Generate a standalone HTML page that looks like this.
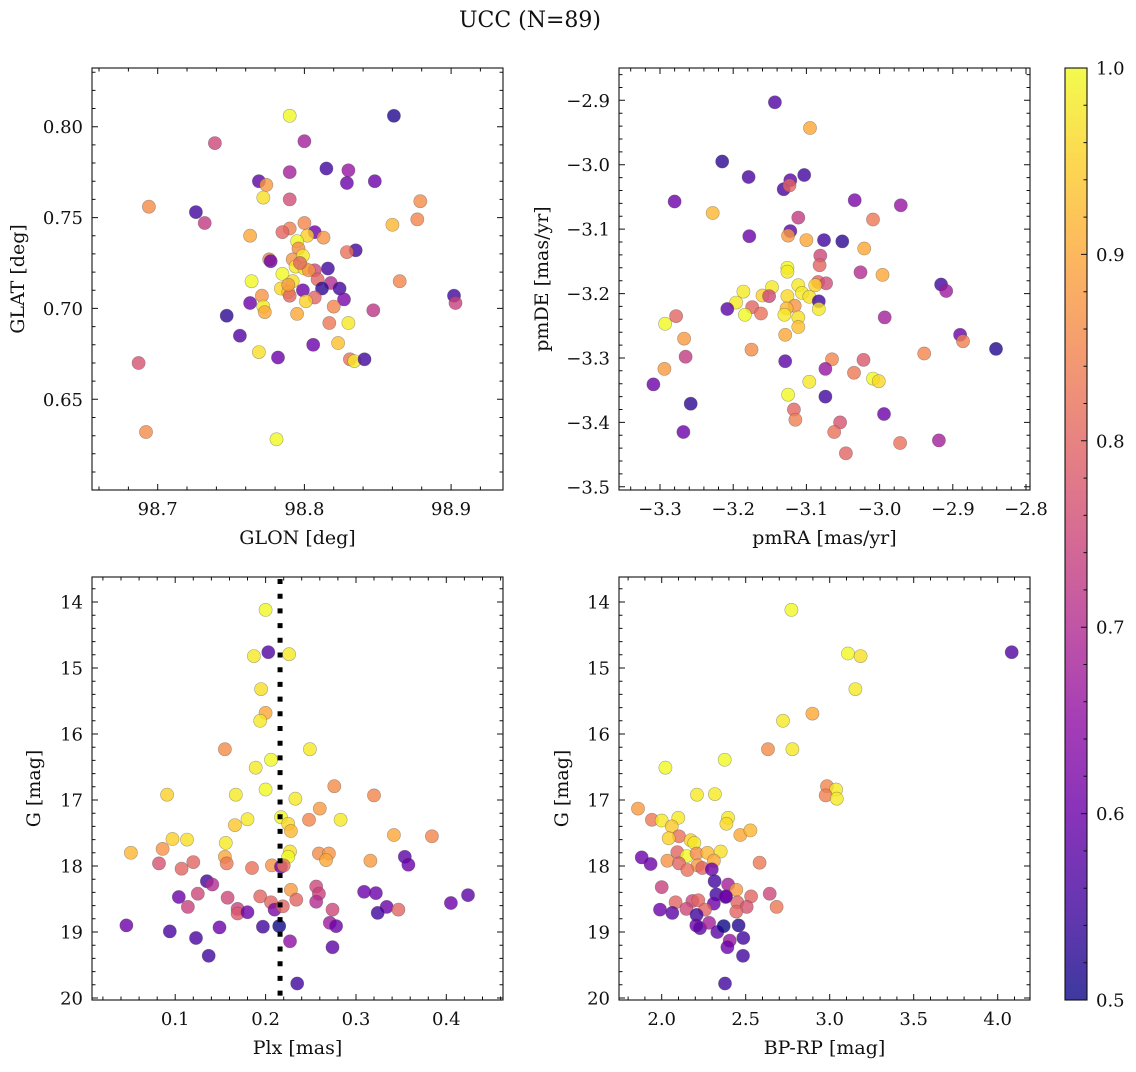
<!DOCTYPE html>
<html><head><meta charset="utf-8">
<style>
html,body{margin:0;padding:0;background:#fff;}
svg text{font-family:"DejaVu Serif","Liberation Serif",serif;fill:#111;}
</style></head>
<body>
<svg id="fig" xmlns="http://www.w3.org/2000/svg" width="1136" height="1067" viewBox="0 0 1136 1067">
<text x="530" y="27" font-size="22" text-anchor="middle">UCC (N=89)</text>
</svg>
<script>
// ---- Panel 1: GLON vs GLAT ----
const glonVals = [98.790,98.861,98.739,98.800,98.815,98.790,98.830,98.829,98.848,98.769,98.774,98.772,98.790,98.694,98.879,98.726,98.732,98.877,98.860,98.763,98.800,98.790,98.785,98.807,98.813,98.802,98.795,98.796,98.835,98.829,98.776,98.777,98.792,98.799,98.794,98.800,98.807,98.816,98.785,98.803,98.809,98.818,98.792,98.764,98.784,98.789,98.812,98.824,98.799,98.790,98.807,98.771,98.763,98.827,98.801,98.902,98.903,98.865,98.772,98.773,98.820,98.847,98.747,98.795,98.817,98.830,98.756,98.806,98.823,98.769,98.782,98.831,98.834,98.841,98.687,98.692,98.781,98.797,98.789];
const glatVals = [0.806,0.806,0.791,0.792,0.777,0.775,0.776,0.769,0.770,0.770,0.768,0.761,0.760,0.756,0.759,0.753,0.747,0.749,0.746,0.740,0.747,0.744,0.742,0.742,0.739,0.740,0.737,0.733,0.732,0.731,0.727,0.726,0.727,0.729,0.723,0.722,0.721,0.722,0.719,0.721,0.716,0.714,0.715,0.715,0.711,0.709,0.711,0.711,0.710,0.707,0.706,0.707,0.703,0.705,0.704,0.707,0.703,0.715,0.701,0.698,0.701,0.699,0.696,0.697,0.692,0.692,0.685,0.680,0.681,0.676,0.673,0.672,0.671,0.672,0.670,0.632,0.628,0.725,0.713];
const probA = [1.0,0.52,0.75,0.68,0.55,0.68,0.66,0.6,0.6,0.58,0.88,0.97,0.76,0.86,0.86,0.55,0.73,0.85,0.92,0.9,0.85,0.84,0.8,0.6,0.87,0.95,1.0,0.86,0.55,0.82,0.85,0.6,0.87,0.98,0.98,0.97,0.75,0.55,1.0,0.87,0.8,0.7,0.97,1.0,0.96,0.94,0.53,0.55,0.6,0.8,0.8,0.87,0.6,0.62,0.95,0.55,0.74,0.85,0.98,0.9,0.85,0.72,0.53,0.9,0.83,0.98,0.57,0.6,0.93,0.97,0.6,0.82,0.98,0.55,0.77,0.86,1.0,0.8,0.88];
// ---- Panel 2: pmRA vs pmDE ----
const pmraVals = [-3.143,-3.095,-3.215,-3.179,-3.122,-3.131,-3.123,-3.103,-3.280,-3.034,-2.971,-3.228,-3.111,-3.009,-3.178,-3.122,-3.125,-3.100,-3.076,-3.051,-3.021,-3.081,-3.082,-3.126,-3.126,-3.026,-2.996,-3.084,-3.073,-2.916,-2.909,-3.186,-3.147,-3.160,-3.151,-3.111,-3.126,-3.106,-3.096,-3.088,-3.083,-3.083,-3.196,-3.208,-3.174,-3.162,-3.184,-3.116,-3.127,-3.130,-3.111,-3.111,-3.129,-3.278,-3.293,-2.993,-2.890,-2.886,-3.267,-3.175,-2.841,-3.265,-3.129,-3.065,-3.022,-2.939,-3.074,-3.035,-3.294,-3.309,-3.096,-3.009,-3.001,-3.125,-3.074,-3.258,-3.117,-3.115,-3.054,-3.062,-2.994,-3.268,-2.972,-2.919,-3.046];
const pmdeVals = [-2.903,-2.943,-2.995,-3.019,-3.024,-3.038,-3.032,-3.016,-3.057,-3.055,-3.063,-3.075,-3.082,-3.085,-3.111,-3.103,-3.110,-3.117,-3.117,-3.119,-3.130,-3.141,-3.156,-3.160,-3.166,-3.167,-3.171,-3.182,-3.184,-3.186,-3.196,-3.197,-3.190,-3.203,-3.204,-3.187,-3.204,-3.199,-3.205,-3.187,-3.212,-3.224,-3.214,-3.224,-3.221,-3.231,-3.233,-3.219,-3.223,-3.233,-3.237,-3.252,-3.264,-3.235,-3.247,-3.237,-3.264,-3.274,-3.270,-3.287,-3.286,-3.298,-3.305,-3.302,-3.303,-3.293,-3.317,-3.323,-3.317,-3.341,-3.337,-3.332,-3.336,-3.357,-3.360,-3.371,-3.380,-3.396,-3.400,-3.415,-3.387,-3.415,-3.432,-3.428,-3.448];
const probB = [0.57,0.9,0.53,0.56,0.58,0.56,0.8,0.55,0.6,0.62,0.66,0.92,0.73,0.83,0.6,0.58,0.88,0.9,0.55,0.53,0.9,0.75,0.8,1.0,0.98,0.7,0.9,0.8,0.76,0.55,0.67,0.98,0.98,0.95,0.75,0.98,0.96,0.98,0.97,0.95,0.55,0.98,0.98,0.58,0.8,0.82,1.0,0.87,0.92,0.98,0.97,0.93,0.9,0.8,1.0,0.68,0.6,0.84,0.88,0.86,0.52,0.73,0.58,0.85,0.78,0.85,0.66,0.83,0.88,0.6,0.98,1.0,0.96,1.0,0.55,0.53,0.8,0.84,0.77,0.82,0.6,0.6,0.82,0.68,0.8];
// ---- Panel 3: Plx vs G ----
const plxVals = [0.200,0.203,0.187,0.226,0.195,0.200,0.194,0.155,0.249,0.206,0.189,0.200,0.276,0.091,0.167,0.233,0.320,0.260,0.248,0.283,0.180,0.166,0.217,0.225,0.228,0.342,0.384,0.097,0.113,0.156,0.086,0.051,0.155,0.157,0.227,0.225,0.259,0.270,0.267,0.316,0.354,0.358,0.082,0.107,0.120,0.185,0.207,0.217,0.220,0.135,0.141,0.104,0.125,0.158,0.114,0.169,0.169,0.180,0.194,0.206,0.210,0.219,0.228,0.234,0.256,0.259,0.256,0.274,0.271,0.278,0.309,0.322,0.334,0.324,0.347,0.405,0.424,0.046,0.094,0.123,0.149,0.197,0.215,0.227,0.274,0.137,0.235];
const gPlxVals = [14.12,14.76,14.82,14.79,15.32,15.68,15.80,16.23,16.23,16.39,16.51,16.84,16.79,16.92,16.92,16.98,16.93,17.13,17.30,17.30,17.29,17.38,17.26,17.36,17.47,17.53,17.55,17.59,17.60,17.65,17.74,17.80,17.86,17.96,17.78,17.86,17.81,17.81,17.91,17.92,17.86,17.98,17.96,18.04,17.94,18.03,17.99,18.01,17.99,18.23,18.28,18.47,18.42,18.48,18.62,18.65,18.72,18.70,18.46,18.55,18.66,18.61,18.36,18.51,18.31,18.42,18.54,18.66,18.86,18.91,18.39,18.41,18.62,18.71,18.66,18.56,18.44,18.90,18.99,19.09,18.93,18.92,18.91,19.14,19.23,19.36,19.78];
const probC = [1.0,0.57,0.98,0.98,0.97,0.9,0.98,0.86,0.98,1.0,0.98,1.0,0.86,0.95,0.98,0.98,0.85,0.88,0.85,0.98,0.98,0.94,1.0,0.96,0.92,0.9,0.85,0.95,0.97,0.98,0.87,0.92,0.9,0.83,0.97,1.0,0.86,0.87,0.9,0.88,0.58,0.6,0.77,0.8,0.8,0.82,0.87,0.6,0.82,0.55,0.7,0.6,0.75,0.75,0.74,0.74,0.78,0.6,0.8,0.8,0.62,0.8,0.88,0.8,0.75,0.74,0.7,0.75,0.67,0.6,0.6,0.6,0.6,0.55,0.8,0.6,0.58,0.6,0.56,0.56,0.6,0.55,0.5,0.65,0.58,0.55,0.55];
const plxLine = 0.216;
// ---- Panel 4: BP-RP vs G ----
const bprpVals = [2.772,4.083,3.109,3.184,3.153,2.897,2.722,2.633,2.778,2.375,2.022,2.210,2.317,2.984,3.038,2.976,3.042,1.859,1.942,2.000,2.099,2.060,2.395,2.385,2.468,2.528,2.103,2.042,2.173,2.194,2.093,2.149,2.208,2.272,2.351,2.311,2.034,2.103,2.214,2.153,2.242,2.298,2.583,1.881,1.934,2.315,2.395,2.000,2.444,2.325,2.381,2.532,2.643,2.083,2.183,2.218,2.310,2.450,2.506,2.684,1.990,2.063,2.147,2.258,2.444,2.208,2.206,2.228,2.282,2.331,2.369,2.458,2.405,2.391,2.486,2.484,2.377,2.383];
const gCmdVals = [14.12,14.76,14.78,14.82,15.32,15.69,15.80,16.23,16.23,16.39,16.51,16.92,16.91,16.79,16.84,16.93,16.98,17.13,17.30,17.31,17.27,17.40,17.27,17.36,17.53,17.46,17.55,17.58,17.61,17.65,17.79,17.85,17.81,17.80,17.78,17.92,17.92,17.96,17.99,18.06,18.03,18.05,17.95,17.87,17.97,18.23,18.28,18.32,18.36,18.43,18.47,18.46,18.42,18.55,18.53,18.52,18.57,18.55,18.62,18.62,18.66,18.71,18.65,18.66,18.69,18.74,18.90,18.94,18.86,19.00,18.91,18.90,19.13,19.23,19.09,19.36,19.78,18.46];
const probD = [1.0,0.57,1.0,0.97,0.98,0.9,0.98,0.86,0.98,1.0,1.0,0.98,0.98,0.85,0.98,0.84,0.98,0.88,0.83,0.98,0.98,0.94,0.98,0.96,0.9,0.92,0.82,0.95,0.95,0.98,0.8,1.0,0.86,0.92,0.97,0.9,0.87,0.8,0.88,0.82,0.8,0.6,0.83,0.6,0.6,0.55,0.68,0.74,0.88,0.55,0.6,0.8,0.75,0.8,0.75,0.8,0.6,0.8,0.77,0.83,0.6,0.58,0.75,0.8,0.8,0.55,0.6,0.58,0.68,0.58,0.5,0.52,0.66,0.6,0.55,0.55,0.55,0.6];
// ---- Colorbar ----
const cbTicks = [0.5,0.6,0.7,0.8,0.9,1.0];

const NS = "http://www.w3.org/2000/svg";
const fig = document.getElementById('fig');
const plasma = [[13,8,135],[65,4,157],[106,0,168],[143,13,164],[177,42,144],[204,71,120],[225,100,98],[242,132,75],[252,166,54],[252,206,37],[240,249,33]];
function cmap(t){
  t=Math.max(0,Math.min(1,t)); const f=t*10, i=Math.min(9,Math.floor(f)), r=f-i;
  const a=plasma[i], b=plasma[i+1];
  return 'rgb('+a.map((v,k)=>Math.round(v+(b[k]-v)*r)).join(',')+')';
}
function mk(tag, attrs, parent){
  const e=document.createElementNS(NS,tag);
  for(const k in attrs) e.setAttribute(k,attrs[k]);
  (parent||fig).appendChild(e); return e;
}
function fmt(v,d){ const s=Math.abs(v).toFixed(d); return (v<-1e-9?'\u2212':'')+s; }

function panel(cfg){
  const g=mk('g',{});
  
  
  const X=v=>cfg.x0+(v-cfg.xd[0])/(cfg.xd[1]-cfg.xd[0])*(cfg.x1-cfg.x0);
  const Y=cfg.yinv ? (v=>cfg.y0+(v-cfg.yd[0])/(cfg.yd[1]-cfg.yd[0])*(cfg.y1-cfg.y0))
                   : (v=>cfg.y1-(v-cfg.yd[0])/(cfg.yd[1]-cfg.yd[0])*(cfg.y1-cfg.y0));
  const pg=mk('g',{},g);
  
  
  for(let i=0;i<cfg.xs.length;i++){
    const c=mk('circle',{cx:X(cfg.xs[i]).toFixed(1),cy:Y(cfg.ys[i]).toFixed(1),r:6.6,fill:cmap((cfg.ps[i]-0.5)/0.5),'fill-opacity':0.8,stroke:'rgba(70,70,70,0.45)','stroke-width':0.6},pg);
    
    
  }
  if(cfg.vline!==undefined){
    const l=mk('line',{x1:X(cfg.vline),x2:X(cfg.vline),y1:cfg.y0+2,y2:cfg.y1,stroke:'#000','stroke-width':5,'stroke-dasharray':'5,9.7'},g);
    
    
  }
  const fr=mk('rect',{x:cfg.x0,y:cfg.y0,width:cfg.x1-cfg.x0,height:cfg.y1-cfg.y0,fill:'none',stroke:'#111','stroke-width':1.1},g);
  
  
  function ticks(d,minor,major,fn){
    const a=Math.ceil(d[0]/minor-1e-6), b=Math.floor(d[1]/minor+1e-6);
    const ratio=Math.round(major/minor);
    for(let k=a;k<=b;k++){ fn(k*minor, ((k%ratio)+ratio)%ratio===0); }
  }
  let tp='';
  ticks(cfg.xd,cfg.xmin,cfg.xmaj,(v,M)=>{
    const x=X(v).toFixed(1), L=M?6:3.5;
    tp+=`M${x},${cfg.y1}v${-L}M${x},${cfg.y0}v${L}`;
    if(M){ const t=mk('text',{x:x,y:cfg.y1+25,'font-size':18,'text-anchor':'middle'},g); t.textContent=fmt(v,cfg.xdec);
        }
  });
  ticks(cfg.yd,cfg.ymin,cfg.ymaj,(v,M)=>{
    const y=Y(v).toFixed(1), L=M?6:3.5;
    tp+=`M${cfg.x0},${y}h${L}M${cfg.x1},${y}h${-L}`;
    if(M){ const t=mk('text',{x:cfg.x0-9,y:+y+6.5,'font-size':18,'text-anchor':'end'},g); t.textContent=fmt(v,cfg.ydec);
        }
  });
  mk('path',{d:tp,stroke:'#111','stroke-width':1,fill:'none'},g);
  const xl=mk('text',{x:(cfg.x0+cfg.x1)/2,y:cfg.y1+54,'font-size':19,'text-anchor':'middle'},g);
  xl.textContent=cfg.xlabel;
   
  const cy=(cfg.y0+cfg.y1)/2;
  const yl=mk('text',{x:cfg.ylx,y:cy,'font-size':19,'text-anchor':'middle',transform:`rotate(-90 ${cfg.ylx} ${cy})`},g);
  yl.textContent=cfg.ylabel;
   
}

panel({name:'glon-glat-panel',x0:92,x1:503,y0:68,y1:490,xd:[98.6552,98.9354],yd:[0.6001,0.8323],xs:glonVals,ys:glatVals,ps:probA,
  xmin:0.02,xmaj:0.1,xdec:1,ymin:0.01,ymaj:0.05,ydec:2,xlabel:'GLON [deg]',ylabel:'GLAT [deg]',ylx:24});
panel({name:'pm-panel',x0:619,x1:1030,y0:68,y1:490,xd:[-3.356,-2.7945],yd:[-3.505,-2.8498],xs:pmraVals,ys:pmdeVals,ps:probB,
  xmin:0.02,xmaj:0.1,xdec:1,ymin:0.02,ymaj:0.1,ydec:1,xlabel:'pmRA [mas/yr]',ylabel:'pmDE [mas/yr]',ylx:548});
panel({name:'plx-g-panel',x0:92,x1:503,y0:577,y1:1000,xd:[0.0079,0.4627],yd:[13.621,20.03],yinv:true,xs:plxVals,ys:gPlxVals,ps:probC,vline:plxLine,
  xmin:0.02,xmaj:0.1,xdec:1,ymin:0.2,ymaj:1,ydec:0,xlabel:'Plx [mas]',ylabel:'G [mag]',ylx:40});
panel({name:'cmd-panel',x0:619,x1:1030,y0:577,y1:1000,xd:[1.746,4.192],yd:[13.621,20.03],yinv:true,xs:bprpVals,ys:gCmdVals,ps:probD,
  xmin:0.1,xmaj:0.5,xdec:1,ymin:0.2,ymaj:1,ydec:0,xlabel:'BP-RP [mag]',ylabel:'G [mag]',ylx:568});

(function(){
  const cb=mk('g',{});
  
  
  const defs=mk('defs',{},cb);
  const lg=mk('linearGradient',{id:'cbg',x1:0,y1:1,x2:0,y2:0},defs);
  for(let i=0;i<=20;i++){ mk('stop',{offset:i/20,'stop-color':cmap(i/20),'stop-opacity':0.8},lg); }
  const x0=1065,x1=1087,y0=68,y1=1000;
  mk('rect',{x:x0,y:y0,width:x1-x0,height:y1-y0,fill:'url(#cbg)',stroke:'#111','stroke-width':1.1},cb);
  const Y=v=>y1-(v-0.5)/0.5*(y1-y0);
  let d='';
  for(let k=25;k<=50;k++){ const v=k/50, y=Y(v).toFixed(1); const M=k%5===0; d+=`M${x1},${y}h${M?-6:-3.5}`; }
  mk('path',{d:d,stroke:'#111','stroke-width':1},cb);
  for(const v of cbTicks){
    const t=mk('text',{x:x1+9,y:Y(v)+6.5,'font-size':18},cb);
    t.textContent=v.toFixed(1);
    
    
  }
})();
</script>
</body></html>
